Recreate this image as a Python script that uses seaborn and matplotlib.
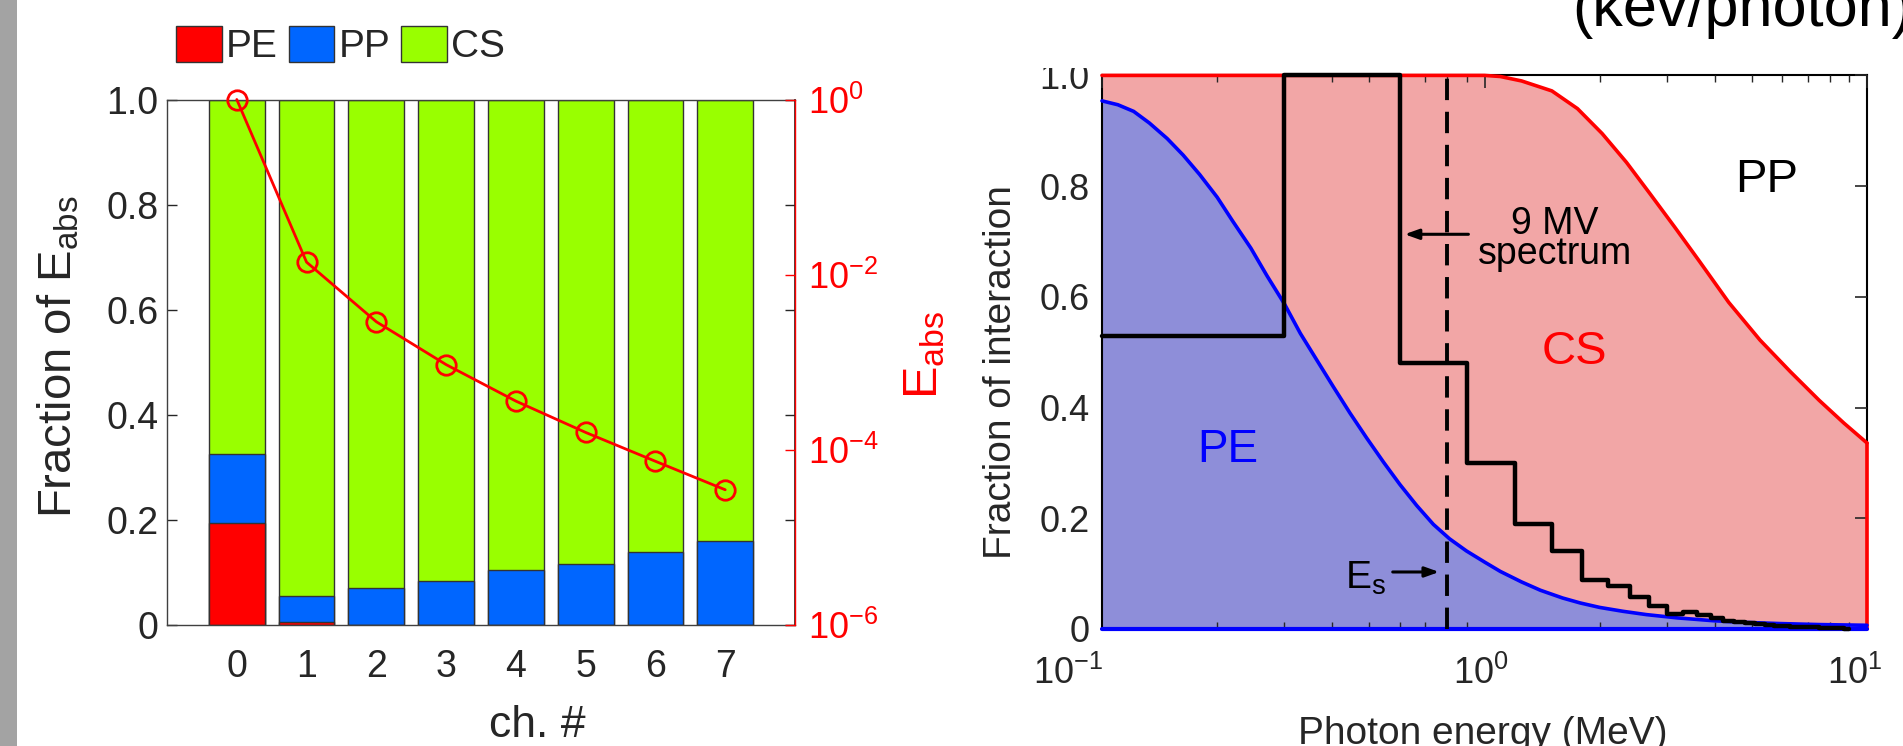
import matplotlib
matplotlib.use('Agg')
import matplotlib.pyplot as plt
import matplotlib.transforms as mtransforms
import seaborn as sns
from matplotlib.patches import Patch, Rectangle
from matplotlib.ticker import FixedLocator, FixedFormatter, NullLocator, LogLocator

# --- data: left panel (energy fractions per channel) ---
channels = [0, 1, 2, 3, 4, 5, 6, 7]
pe_frac = [0.195, 0.006, 0.0, 0.0, 0.0, 0.0, 0.0, 0.0]
pp_frac = [0.130, 0.050, 0.071, 0.084, 0.105, 0.117, 0.138, 0.159]
cs_frac = [0.675, 0.944, 0.929, 0.916, 0.895, 0.883, 0.862, 0.841]
e_abs = [1.0, 1.39e-2, 2.9e-3, 9.4e-4, 3.6e-4, 1.58e-4, 7.4e-5, 3.5e-5]

# --- data: right panel (interaction fractions vs photon energy, MeV) ---
pe_energy = [0.1, 0.11, 0.121, 0.133, 0.148, 0.163, 0.180, 0.2, 0.220, 0.245,
             0.270, 0.3, 0.330, 0.365, 0.403, 0.445, 0.492, 0.545, 0.601, 0.665,
             0.735, 0.81, 0.897, 1.0, 1.10, 1.25, 1.40, 1.6, 1.78, 2.0, 2.3,
             2.65, 3.2, 3.96, 4.8, 5.93, 7.5, 10.0]
pe_curve = [0.954, 0.947, 0.935, 0.914, 0.886, 0.856, 0.821, 0.78, 0.736, 0.688,
            0.638, 0.587, 0.534, 0.485, 0.437, 0.39, 0.345, 0.301, 0.261, 0.223,
            0.189, 0.163, 0.141, 0.121, 0.104, 0.085, 0.070, 0.056, 0.047, 0.039,
            0.032, 0.026, 0.020, 0.015, 0.012, 0.0098, 0.0080, 0.0067]
cs_energy = [0.1, 0.5, 1.0, 1.1, 1.25, 1.5, 1.75, 2.03, 2.35, 2.71, 3.15, 3.64,
             4.35, 5.25, 6.3, 7.5, 8.7, 10.0]
cs_curve = [1.0, 1.0, 1.0, 0.998, 0.99, 0.972, 0.94, 0.895, 0.843, 0.786, 0.725,
            0.665, 0.59, 0.522, 0.465, 0.413, 0.372, 0.336]
spec_edges = [0.1, 0.3, 0.6, 0.9, 1.2, 1.5, 1.8, 2.1, 2.4, 2.7, 3.0, 3.3, 3.6, 3.9,
              4.2, 4.5, 4.8, 5.1, 5.4, 5.7, 6.0, 6.3, 6.6, 6.9, 7.2, 7.5, 7.8, 8.1,
              8.4, 8.7, 9.0]
spec_vals = [0.53, 1.0, 0.48, 0.30, 0.19, 0.14, 0.088, 0.077, 0.058, 0.042, 0.027,
             0.031, 0.026, 0.019, 0.015, 0.012, 0.010, 0.009, 0.008, 0.006, 0.005,
             0.004, 0.004, 0.003, 0.003, 0.002, 0.002, 0.001, 0.001, 0.0005]
es_energy = 0.8

frac_ticks = [0, 0.2, 0.4, 0.6, 0.8, 1.0]
frac_labels = ['0', '0.2', '0.4', '0.6', '0.8', '1.0']
eabs_ticks = [1e-6, 1e-4, 1e-2, 1e0]
eabs_labels = ['10$^{-6}$', '10$^{-4}$', '10$^{-2}$', '10$^{0}$']
energy_ticks = [0.1, 1, 10]
energy_labels = ['10$^{-1}$', '10$^{0}$', '10$^{1}$']

sns.set_theme(style='white')
plt.rcParams['font.family'] = ['Liberation Sans', 'DejaVu Sans']
plt.rcParams['mathtext.fontset'] = 'custom'
plt.rcParams['mathtext.rm'] = 'Liberation Sans'
plt.rcParams['mathtext.it'] = 'Liberation Sans:italic'
plt.rcParams['mathtext.bf'] = 'Liberation Sans:bold'

W, H = 1903, 746
dark = '#262626'
green, blue_bar, red = '#99ff00', '#0066ff', '#ff0000'


def fx(x):
    return x / W


def fy(y):
    return 1 - y / H


fig = plt.figure(figsize=(W / 100, H / 100), dpi=100)
fig.patch.set_facecolor('white')

# ---------------- left panel: stacked bars + E_abs on log axis ----------------
ax1 = fig.add_axes([fx(167), fy(625), fx(795) - fx(167), (625 - 99.5) / H])
pp_top = [a + b for a, b in zip(pe_frac, pp_frac)]
cs_top = [a + b for a, b in zip(pp_top, cs_frac)]
for heights, col in [(cs_top, green), (pp_top, blue_bar), (pe_frac, red)]:
    sns.barplot(x=channels, y=heights, color=col, saturation=1, errorbar=None,
                edgecolor='#333333', linewidth=1, width=0.8, ax=ax1)
ax1.set_xlim(-1, 8)
ax1.set_ylim(0, 1)
ax1.yaxis.set_major_locator(FixedLocator(frac_ticks))
ax1.yaxis.set_major_formatter(FixedFormatter(frac_labels))
for s in ['left', 'top', 'bottom']:
    ax1.spines[s].set_color('#404040')
    ax1.spines[s].set_linewidth(1)

ax2 = ax1.twinx()
sns.lineplot(x=channels, y=e_abs, ax=ax2, color=red, lw=2, marker='o',
             markersize=14, markerfacecolor='none', markeredgecolor=red,
             markeredgewidth=2, clip_on=False, zorder=5)
ax2.set_yscale('log')
ax2.set_ylim(1e-6, 1)
ax2.yaxis.set_major_locator(FixedLocator(eabs_ticks))
ax2.yaxis.set_major_formatter(FixedFormatter(eabs_labels))
ax2.yaxis.set_minor_locator(NullLocator())
ax2.tick_params(axis='y', colors=red, direction='in', length=7, width=1,
                labelsize=26, pad=9)
for s in ['left', 'top', 'bottom']:
    ax2.spines[s].set_visible(False)
ax2.spines['right'].set_color(red)
ax2.spines['right'].set_linewidth(1)
ax2.set_xlabel('')
ax2.set_ylabel('')

ax1.tick_params(axis='y', left=True, right=True, direction='in', length=7,
                width=1, colors=dark, labelsize=27, pad=6)
ax1.tick_params(axis='x', bottom=True, length=0, colors=dark, labelsize=27, pad=17)
ax1.set_xlabel('')
ax1.set_ylabel('')

leg_handles = [Patch(facecolor=red, edgecolor='#333333', label='PE'),
               Patch(facecolor=blue_bar, edgecolor='#333333', label='PP'),
               Patch(facecolor=green, edgecolor='#333333', label='CS')]
fig.legend(handles=leg_handles, loc='upper left', bbox_to_anchor=(fx(176), fy(26)),
           ncol=3, frameon=False, fontsize=28, handlelength=1.18, handleheight=1.04,
           handletextpad=0.1, columnspacing=0.28, borderaxespad=0, borderpad=0)

fig.text(fx(59), fy(357), 'Fraction of E$_{\\mathrm{abs}}$', rotation=90,
         ha='center', va='center', fontsize=34, color=dark)
fig.text(fx(925), fy(355), 'E$_{\\mathrm{abs}}$', rotation=90,
         ha='center', va='center', fontsize=35, color=red)
fig.text(fx(537), fy(737), 'ch. #', ha='center', va='baseline', fontsize=32, color=dark)

# ---------------- right panel: interaction fractions ----------------
ax3 = fig.add_axes([fx(1102), fy(629), fx(1867) - fx(1102), (629 - 75.4) / H])
ax3.set_axisbelow(False)
ax3.fill_between(cs_energy, 0, cs_curve, facecolor='#f2a6a6', lw=0, zorder=1)
ax3.fill_between(pe_energy, 0, pe_curve, facecolor='#8e8ed9', lw=0, zorder=1.1)
sns.lineplot(x=cs_energy, y=cs_curve, ax=ax3, color=red, lw=2.6, clip_on=False, zorder=4)
ax3.plot([cs_energy[-1], cs_energy[-1]], [0, cs_curve[-1]], color=red, lw=2.6,
         clip_on=False, zorder=4)
sns.lineplot(x=pe_energy, y=pe_curve, ax=ax3, color='#0000ff', lw=2.6, clip_on=False, zorder=4)
ax3.axhline(0, color='#0000ff', lw=3, clip_on=False, zorder=4)
sns.lineplot(x=spec_edges, y=spec_vals + [spec_vals[-1]], ax=ax3, color='black',
             lw=3.2, drawstyle='steps-post', clip_on=False, zorder=5)
ax3.axvline(es_energy, color='black', lw=2.8, ls=(0, (5.5, 3)), zorder=5)

ax3.set_xscale('log')
ax3.set_xlim(0.1, 10)
ax3.set_ylim(0, 1)
ax3.xaxis.set_major_locator(FixedLocator(energy_ticks))
ax3.xaxis.set_major_formatter(FixedFormatter(energy_labels))
ax3.xaxis.set_minor_locator(LogLocator(base=10, subs=[2, 3, 4, 5, 6, 7, 8, 9]))
ax3.yaxis.set_major_locator(FixedLocator(frac_ticks))
ax3.yaxis.set_major_formatter(FixedFormatter(frac_labels))
ax3.tick_params(axis='both', which='major', direction='in', length=9, width=1.2,
                colors=dark, labelsize=26, top=True, right=True)
ax3.tick_params(axis='x', which='minor', direction='in', length=5, width=1,
                colors=dark, top=True, bottom=True)
ax3.tick_params(axis='x', which='major', pad=19)
ax3.tick_params(axis='y', which='major', pad=9)
for s in ax3.spines.values():
    s.set_color('black')
    s.set_linewidth(1.5)
ax3.set_xlabel('')
ax3.set_ylabel('')

# the reference has its x tick labels nudged sideways
for lab, dx in zip(ax3.get_xticklabels(), [-34, -4, -12]):
    lab.set_transform(lab.get_transform() +
                      mtransforms.ScaledTranslation(dx / 100, 0, fig.dpi_scale_trans))

ax3.text(0.213, 0.324, 'PE', color='#0000ff', fontsize=33, ha='center', va='center')
ax3.text(1.714, 0.50, 'CS', color=red, fontsize=34, ha='center', va='center')
ax3.text(5.48, 0.811, 'PP', color='black', fontsize=34, ha='center', va='center')
ax3.text(1.53, 0.705, '9 MV\nspectrum', color='black', fontsize=27, ha='center',
         va='center', linespacing=0.78)
ax3.annotate('', xy=(0.608, 0.713), xytext=(0.923, 0.713),
             arrowprops=dict(arrowstyle='-|>,head_width=0.25,head_length=0.7',
                             color='black', lw=2.2), zorder=6)
ax3.text(0.49, 0.092, 'E$_{\\mathrm{s}}$', color='black', fontsize=28,
         ha='center', va='center')
ax3.annotate('', xy=(0.774, 0.103), xytext=(0.566, 0.103),
             arrowprops=dict(arrowstyle='-|>,head_width=0.25,head_length=0.7',
                             color='black', lw=2.2), zorder=6)

fig.text(fx(1001), fy(372), 'Fraction of interaction', rotation=90,
         ha='center', va='center', fontsize=28, color=dark)
fig.text(fx(1483), fy(744), 'Photon energy (MeV)', ha='center', va='baseline',
         fontsize=28, color=dark)
fig.text(fx(1572), fy(26), '(kev/photon)', ha='left', va='baseline',
         fontsize=44, color='black')

# screenshot frame details
fig.add_artist(Rectangle((0, 0), fx(17), 1, transform=fig.transFigure,
                         facecolor='#a3a3a3', edgecolor='none', zorder=20))
fig.add_artist(Rectangle((fx(1030), fy(68)), fx(70), 68 / H, transform=fig.transFigure,
                         facecolor='white', edgecolor='none', zorder=20))

fig.savefig('out.png', dpi=100)
